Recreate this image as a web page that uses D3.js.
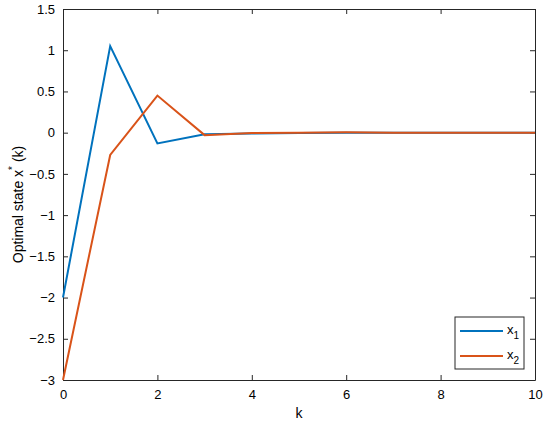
<!DOCTYPE html>
<html>
<head>
<meta charset="utf-8">
<script src="https://cdn.jsdelivr.net/npm/d3@7"></script>
<style>
  body { margin: 0; background: #fff; }
  text { font-family: "Liberation Sans", Arial, sans-serif; }
</style>
</head>
<body>
<div id="chart"></div>
<script>
const kValues = [0, 1, 2, 3, 4, 5, 6, 7, 8, 9, 10];
const x1Values = [-2, 1.05, -0.13, -0.02, -0.01, -0.005, 0.0, 0, 0, 0, 0];
const x2Values = [-3, -0.27, 0.45, -0.03, -0.005, 0, 0.005, 0, 0, 0, 0];
const xTicks = [0, 2, 4, 6, 8, 10];
const yTicks = [-3, -2.5, -2, -1.5, -1, -0.5, 0, 0.5, 1, 1.5];
const seriesNames = ["x1", "x2"];
const colors = ["#0072BD", "#D95319"];

const svgWidth = 550, svgHeight = 427;
const margin = { top: 9, right: 15, bottom: 47, left: 63 };
const width = svgWidth - margin.left - margin.right;
const height = svgHeight - margin.top - margin.bottom;

const svg = d3.select("#chart").append("svg")
  .attr("width", svgWidth)
  .attr("height", svgHeight);

const g = svg.append("g")
  .attr("transform", `translate(${margin.left},${margin.top})`);

const x = d3.scaleLinear().domain([0, 10]).range([0, width]);
const y = d3.scaleLinear().domain([-3, 1.5]).range([height, 0]);

const axisColor = "#262626";
const fmt = d => d < 0 ? "\u2212" + Math.abs(d) : String(d);

function styleAxis(sel, showLabels) {
  sel.select(".domain").attr("stroke", axisColor);
  sel.selectAll(".tick line").attr("stroke", axisColor);
  sel.selectAll(".tick text")
    .attr("fill", "#000")
    .style("font-size", "13px")
    .style("display", showLabels ? null : "none");
}

g.append("g")
  .attr("transform", `translate(0,${height})`)
  .call(d3.axisBottom(x).tickValues(xTicks).tickFormat(fmt).tickSizeInner(-5).tickSizeOuter(0).tickPadding(10))
  .call(s => styleAxis(s, true));

g.append("g")
  .call(d3.axisTop(x).tickValues(xTicks).tickSizeInner(-5).tickSizeOuter(0))
  .call(s => styleAxis(s, false));

g.append("g")
  .call(d3.axisLeft(y).tickValues(yTicks).tickFormat(fmt).tickSizeInner(-5).tickSizeOuter(0).tickPadding(8))
  .call(s => styleAxis(s, true));

g.append("g")
  .attr("transform", `translate(${width},0)`)
  .call(d3.axisRight(y).tickValues(yTicks).tickSizeInner(-5).tickSizeOuter(0))
  .call(s => styleAxis(s, false));

const line = d3.line()
  .x((d, i) => x(kValues[i]))
  .y(d => y(d));

[x1Values, x2Values].forEach((vals, i) => {
  g.append("path")
    .datum(vals)
    .attr("fill", "none")
    .attr("stroke", colors[i])
    .attr("stroke-width", 2)
    .attr("stroke-linejoin", "miter")
    .attr("d", line);
});

// axis labels
g.append("text")
  .attr("x", width / 2)
  .attr("y", height + 38)
  .attr("text-anchor", "middle")
  .style("font-size", "14px")
  .text("k");

const yl = svg.append("text")
  .attr("transform", `translate(23,${margin.top + height / 2 + 10}) rotate(-90)`)
  .attr("text-anchor", "middle")
  .style("font-size", "14px");
yl.append("tspan").text("Optimal state x");
yl.append("tspan").attr("dy", -7).style("font-size", "10px").text("*");
yl.append("tspan").attr("dy", 7).text(" (k)");

// legend
const legend = g.append("g")
  .attr("transform", `translate(${455 - margin.left},${317 - margin.top})`);
legend.append("rect")
  .attr("width", 69)
  .attr("height", 52)
  .attr("fill", "#fff")
  .attr("stroke", axisColor)
  .attr("stroke-width", 1);

seriesNames.forEach((name, i) => {
  const ly = 14 + i * 25;
  legend.append("line")
    .attr("x1", 5).attr("x2", 48)
    .attr("y1", ly).attr("y2", ly)
    .attr("stroke", colors[i])
    .attr("stroke-width", 2);
  const t = legend.append("text")
    .attr("x", 52)
    .attr("y", ly + 3)
    .style("font-size", "13px");
  t.append("tspan").text(name[0]);
  t.append("tspan").attr("dy", 5).style("font-size", "10px").text(name.slice(1));
});
</script>
</body>
</html>
